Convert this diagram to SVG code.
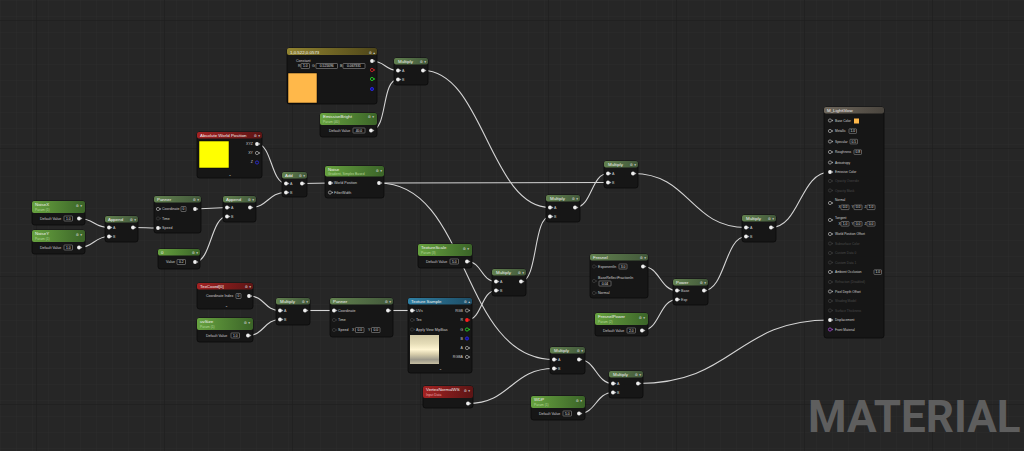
<svg xmlns="http://www.w3.org/2000/svg" width="1024" height="451" viewBox="0 0 1024 451">
<defs>
<style>
text{font-family:"Liberation Sans",Arial,sans-serif}
.b{fill:#161616;stroke:#0a0a0a;stroke-width:.8}
.t{fill:#f0f0f0;font-size:4.4px}
.s{fill:#b5d69a;font-size:3.3px}
.sr{fill:#f0a8a8;font-size:3.3px}
.l{fill:#cdcdcd;font-size:3.6px}
.le{fill:#cdcdcd;font-size:3.6px;text-anchor:end}
.f{fill:#d0d0d0;font-size:3.2px}
.d{fill:#4a4a4a;font-size:3.2px}
.ic{fill:#d0d0d0;font-size:3.6px;font-family:"DejaVu Sans",sans-serif;text-anchor:end}
.bx{fill:#0f0f0f;stroke:#a8a8a8;stroke-width:.5}
.v{fill:#e2e2e2;font-size:3.3px;text-anchor:middle}
.w{fill:none;stroke:#d4d4d4;stroke-width:1.1}
.mk{fill:#5e5e5e;font-family:Roboto,"Liberation Sans",sans-serif;font-weight:700;font-size:44px}
</style>
<linearGradient id="gM" x1="0" y1="0" x2="1" y2="0"><stop offset="0" stop-color="#62814f"/><stop offset="1" stop-color="#42583a"/></linearGradient>
<linearGradient id="gP" x1="0" y1="0" x2="1" y2="0"><stop offset="0" stop-color="#67a23f"/><stop offset="1" stop-color="#3b6428"/></linearGradient>
<linearGradient id="gR" x1="0" y1="0" x2="1" y2="0"><stop offset="0" stop-color="#a32222"/><stop offset="1" stop-color="#5c1515"/></linearGradient>
<linearGradient id="gB" x1="0" y1="0" x2="1" y2="0"><stop offset="0" stop-color="#2f7fa3"/><stop offset="1" stop-color="#1d4d66"/></linearGradient>
<linearGradient id="gY" x1="0" y1="0" x2="1" y2="0"><stop offset="0" stop-color="#928430"/><stop offset="1" stop-color="#4e4619"/></linearGradient>
<linearGradient id="gF" x1="0" y1="0" x2="1" y2="0"><stop offset="0" stop-color="#6e675c"/><stop offset="1" stop-color="#4a453e"/></linearGradient>
<linearGradient id="gT" x1="0" y1="0" x2="0" y2="1"><stop offset="0" stop-color="#cfc6a3"/><stop offset=".3" stop-color="#e6ddb8"/><stop offset=".5" stop-color="#fff5d2"/><stop offset=".66" stop-color="#d8ceac"/><stop offset=".85" stop-color="#9d998b"/><stop offset="1" stop-color="#c6bea2"/></linearGradient>
<pattern id="minor" width="16" height="16" patternUnits="userSpaceOnUse"><path d="M16 0H0V16" fill="none" stroke="#2c2c2c" stroke-width=".8"/></pattern>
<pattern id="major" x="36" y="20" width="128" height="128" patternUnits="userSpaceOnUse"><path d="M128 0H0V128" fill="none" stroke="#1c1c1c" stroke-width="1"/></pattern>
<g id="on"><circle r="1.9" fill="#eeeeee"/><path d="M2.3,-1.1L3.3,0L2.3,1.1Z" fill="#eeeeee"/></g>
<g id="off"><circle r="1.6" fill="#3a3a3a" stroke="#6a6a6a" stroke-width=".5"/></g>
<g id="fo"><circle r="1.6" fill="none" stroke="#d0d0d0" stroke-width=".6"/><path d="M2.2,-1L3.2,0L2.2,1Z" fill="#d0d0d0"/></g>
<g id="fd"><circle r="1.6" fill="none" stroke="#444" stroke-width=".6"/><path d="M2.2,-1L3.2,0L2.2,1Z" fill="#444"/></g>
</defs>
<rect width="1024" height="451" fill="#262626"/>
<rect width="1024" height="451" fill="url(#minor)"/>
<rect width="1024" height="451" fill="url(#major)"/>

<g id="connectors">
<path class="w" d="M372,61C385,61 385,70.5 398,70.5"/>
<path class="w" d="M371,130.5C388,130.5 381,79.5 398,79.5"/>
<path class="w" d="M423,70.5C483,70.5 490,207.5 550,207.5"/>
<path class="w" d="M379,183L608,182.5"/>
<path class="w" d="M379,183C470,183 460,359.5 554,359.5"/>
<path class="w" d="M575,207.5C592,207.5 591,173.5 608,173.5"/>
<path class="w" d="M521,281.5C538,281.5 533,216.5 550,216.5"/>
<path class="w" d="M467,261.5C482,261.5 481,281.5 496,281.5"/>
<path class="w" d="M467,320C482,320 481,290.5 496,290.5"/>
<path class="w" d="M633,173.5C690,173.5 690,227.5 746,227.5"/>
<path class="w" d="M704,290.5C725,290.5 725,236.5 746,236.5"/>
<path class="w" d="M643,266.5C660,266.5 660,290.5 677,290.5"/>
<path class="w" d="M642,330.5C660,330.5 659,299.5 677,299.5"/>
<path class="w" d="M771,227.5C800,227.5 800,172 830,172"/>
<path class="w" d="M579,359.5C596,359.5 596,383.5 613,383.5"/>
<path class="w" d="M468,403.5C511,403.5 511,368.5 554,368.5"/>
<path class="w" d="M579,413.5C596,413.5 596,392.5 613,392.5"/>
<path class="w" d="M638,383.5C735,383.5 735,320 830,320"/>
<path class="w" d="M257,144C272,144 271,183.5 286,183.5"/>
<path class="w" d="M250,207.5C268,207.5 268,192.5 286,192.5"/>
<path class="w" d="M302,183.5L330,183"/>
<path class="w" d="M195,209L227,207.5"/>
<path class="w" d="M195,262C211,262 211,216.5 227,216.5"/>
<path class="w" d="M79,218.5C94,218.5 94,227.5 109,227.5"/>
<path class="w" d="M79,247.5C94,247.5 94,236.5 109,236.5"/>
<path class="w" d="M133,227.5C146,227.5 145,228 158,228"/>
<path class="w" d="M249,296C265,296 264,310.5 280,310.5"/>
<path class="w" d="M248,335.5C264,335.5 264,319.5 280,319.5"/>
<path class="w" d="M305,310.5L334,310.5"/>
<path class="w" d="M388,310.5L412,310.5"/>
</g>

<g id="const3">
<rect class="b" x="287" y="48" width="90" height="56" rx="2.5"/>
<rect x="287" y="48" width="90" height="7" rx="2" fill="url(#gY)"/>
<text class="t" x="290" y="53.5">1,0.522,0.0573</text>
<text class="ic" x="375" y="53.5">⚙ ▴</text>
<text class="l" x="296" y="61.5">Constant</text>
<text class="l" x="298" y="67.3">R</text><rect class="bx" x="301" y="63.5" width="8.5" height="5" rx=".6"/><text class="v" x="305.2" y="67.2">1.0</text>
<text class="l" x="312" y="67.3">G</text><rect class="bx" x="316" y="63.5" width="21.5" height="5" rx=".6"/><text class="v" x="326.7" y="67.2">0.521696</text>
<text class="l" x="340" y="67.3">B</text><rect class="bx" x="343" y="63.5" width="22" height="5" rx=".6"/><text class="v" x="354" y="67.2">0.067331</text>
<rect x="288" y="73" width="29" height="30" fill="#ffb84a" stroke="#000" stroke-width=".5"/>
<use href="#on" x="372" y="61"/>
<circle cx="372" cy="70" r="1.6" fill="none" stroke="#ff2a2a" stroke-width=".7"/><path d="M374.2,69L375.2,70L374.2,71Z" fill="#ff2a2a"/>
<circle cx="372" cy="79" r="1.6" fill="none" stroke="#2bff2b" stroke-width=".7"/><path d="M374.2,78L375.2,79L374.2,80Z" fill="#2bff2b"/>
<circle cx="372" cy="89" r="1.6" fill="#1010a0" stroke="#3030ff" stroke-width=".7"/>
</g>

<g id="mul1">
<rect class="b" x="394" y="58" width="34" height="27" rx="2.5"/>
<rect x="394" y="58" width="34" height="6.5" rx="2" fill="url(#gM)"/>
<text class="t" x="398" y="63">Multiply</text><text class="ic" x="426" y="63">⚙ ▾</text>
<use href="#on" x="398" y="70.5"/><text class="l" x="402" y="71.8">A</text>
<use href="#on" x="398" y="79.5"/><text class="l" x="402" y="80.8">B</text>
<use href="#on" x="423" y="70.5"/>
</g>

<g id="emissive">
<rect class="b" x="320" y="113" width="57" height="24" rx="2.5"/>
<rect x="320" y="113" width="57" height="12" rx="2" fill="url(#gP)"/>
<text class="t" x="323" y="118">EmissiveBright</text><text class="s" x="323" y="123">Param (40)</text>
<text class="ic" x="374" y="118">⚙ ▾</text>
<text class="l" x="329" y="131.7">Default Value</text>
<rect class="bx" x="353" y="128" width="12" height="5" rx=".6"/><text class="v" x="359" y="131.7">40.0</text>
<use href="#on" x="371" y="130.5"/>
</g>

<g id="absworld">
<rect class="b" x="197" y="132" width="65" height="46" rx="2.5"/>
<rect x="197" y="132" width="65" height="6.5" rx="2" fill="url(#gR)"/>
<text class="t" x="200" y="137">Absolute World Position</text><text class="ic" x="260" y="137">⚙ ▾</text>
<rect x="199" y="141" width="30" height="27" fill="#ffff00" stroke="#000" stroke-width=".5"/>
<text class="le" x="253" y="145.3">XYZ</text><use href="#on" x="257" y="144"/>
<text class="le" x="253" y="154.3">XY</text><use href="#fo" x="257" y="153"/>
<text class="le" x="253" y="163.3">Z</text><circle cx="257" cy="162.5" r="1.6" fill="none" stroke="#3030ff" stroke-width=".7"/>
<text class="ic" x="231.5" y="176">⌄</text>
</g>

<g id="add">
<rect class="b" x="282" y="172" width="25" height="25" rx="2.5"/>
<rect x="282" y="172" width="25" height="6.5" rx="2" fill="url(#gM)"/>
<text class="t" x="285" y="177">Add</text><text class="ic" x="305" y="177">⚙ ▾</text>
<use href="#on" x="286" y="183.5"/><text class="l" x="290" y="184.8">A</text>
<use href="#on" x="286" y="192.5"/><text class="l" x="290" y="193.8">B</text>
<use href="#on" x="302" y="183.5"/>
</g>

<g id="noise">
<rect class="b" x="325" y="166" width="59" height="32" rx="2.5"/>
<rect x="325" y="166" width="59" height="10.5" rx="2" fill="url(#gP)"/>
<text class="t" x="328" y="170.5">Noise</text><text class="s" x="328" y="175">Gradient, Simplex Based</text>
<text class="ic" x="382" y="172">⚙ ▾</text>
<use href="#on" x="330" y="183"/><text class="l" x="334" y="184.3">World Position</text>
<use href="#fo" x="330" y="192.5"/><text class="l" x="334" y="193.8">FilterWidth</text>
<use href="#on" x="379" y="183"/>
</g>

<g id="noisex">
<rect class="b" x="32" y="201" width="53" height="24" rx="2.5"/>
<rect x="32" y="201" width="53" height="12" rx="2" fill="url(#gP)"/>
<text class="t" x="35" y="206">NoiseX</text><text class="s" x="35" y="211">Param (1)</text>
<text class="ic" x="82" y="207">⚙ ▾</text>
<text class="l" x="40" y="219.7">Default Value</text>
<rect class="bx" x="64" y="216" width="8.5" height="5" rx=".6"/><text class="v" x="68.2" y="219.7">1.0</text>
<use href="#on" x="79" y="218.5"/>
</g>

<g id="noisey">
<rect class="b" x="32" y="230" width="53" height="24" rx="2.5"/>
<rect x="32" y="230" width="53" height="12" rx="2" fill="url(#gP)"/>
<text class="t" x="35" y="235">NoiseY</text><text class="s" x="35" y="240">Param (1)</text>
<text class="ic" x="82" y="236">⚙ ▾</text>
<text class="l" x="40" y="248.7">Default Value</text>
<rect class="bx" x="64" y="245" width="8.5" height="5" rx=".6"/><text class="v" x="68.2" y="248.7">1.0</text>
<use href="#on" x="79" y="247.5"/>
</g>

<g id="appendL">
<rect class="b" x="105" y="216" width="33" height="26" rx="2.5"/>
<rect x="105" y="216" width="33" height="6.5" rx="2" fill="url(#gM)"/>
<text class="t" x="108" y="221">Append</text><text class="ic" x="136" y="221">⚙ ▾</text>
<use href="#on" x="109" y="227.5"/><text class="l" x="113" y="228.8">A</text>
<use href="#on" x="109" y="236.5"/><text class="l" x="113" y="237.8">B</text>
<use href="#on" x="133" y="227.5"/>
</g>

<g id="pannerU">
<rect class="b" x="154" y="196" width="47" height="37" rx="2.5"/>
<rect x="154" y="196" width="47" height="6.5" rx="2" fill="url(#gM)"/>
<text class="t" x="157" y="201">Panner</text><text class="ic" x="199" y="201">⚙ ▾</text>
<use href="#fo" x="158" y="209"/><text class="l" x="162" y="210.3">Coordinate</text>
<rect class="bx" x="181" y="206.5" width="5" height="5" rx=".6"/><text class="v" x="183.5" y="210.2">0</text>
<use href="#fd" x="158" y="218.5"/><text class="l" x="162" y="219.8">Time</text>
<use href="#on" x="158" y="228"/><text class="l" x="162" y="229.3">Speed</text>
<use href="#on" x="195" y="209"/>
</g>

<g id="appendR">
<rect class="b" x="223" y="196" width="33" height="26" rx="2.5"/>
<rect x="223" y="196" width="33" height="6.5" rx="2" fill="url(#gM)"/>
<text class="t" x="226" y="201">Append</text><text class="ic" x="254" y="201">⚙ ▾</text>
<use href="#on" x="227" y="207.5"/><text class="l" x="231" y="208.8">A</text>
<use href="#on" x="227" y="216.5"/><text class="l" x="231" y="217.8">B</text>
<use href="#on" x="250" y="207.5"/>
</g>

<g id="const0">
<rect class="b" x="158" y="249" width="42" height="20" rx="2.5"/>
<rect x="158" y="249" width="42" height="6.5" rx="2" fill="url(#gP)"/>
<text class="t" x="161" y="254">0</text><text class="ic" x="198" y="254">⚙ ▾</text>
<text class="l" x="166" y="263.3">Value</text>
<rect class="bx" x="177" y="259.5" width="8.5" height="5" rx=".6"/><text class="v" x="181.2" y="263.2">0.2</text>
<use href="#on" x="195" y="262"/>
</g>

<g id="mulMid">
<rect class="b" x="546" y="195" width="34" height="27" rx="2.5"/>
<rect x="546" y="195" width="34" height="6.5" rx="2" fill="url(#gM)"/>
<text class="t" x="550" y="200">Multiply</text><text class="ic" x="578" y="200">⚙ ▾</text>
<use href="#on" x="550" y="207.5"/><text class="l" x="554" y="208.8">A</text>
<use href="#on" x="550" y="216.5"/><text class="l" x="554" y="217.8">B</text>
<use href="#on" x="575" y="207.5"/>
</g>

<g id="mulTR">
<rect class="b" x="604" y="161" width="34" height="27" rx="2.5"/>
<rect x="604" y="161" width="34" height="6.5" rx="2" fill="url(#gM)"/>
<text class="t" x="608" y="166">Multiply</text><text class="ic" x="636" y="166">⚙ ▾</text>
<use href="#on" x="608" y="173.5"/><text class="l" x="612" y="174.8">A</text>
<use href="#on" x="608" y="182.5"/><text class="l" x="612" y="183.8">B</text>
<use href="#on" x="633" y="173.5"/>
</g>

<g id="texscale">
<rect class="b" x="418" y="244" width="54" height="24" rx="2.5"/>
<rect x="418" y="244" width="54" height="12" rx="2" fill="url(#gP)"/>
<text class="t" x="421" y="249">TextureScale</text><text class="s" x="421" y="254">Param (3)</text>
<text class="ic" x="469" y="250">⚙ ▾</text>
<text class="l" x="426" y="262.7">Default Value</text>
<rect class="bx" x="450" y="259" width="8.5" height="5" rx=".6"/><text class="v" x="454.2" y="262.7">5.0</text>
<use href="#on" x="467" y="261.5"/>
</g>

<g id="mul492">
<rect class="b" x="492" y="269" width="34" height="27" rx="2.5"/>
<rect x="492" y="269" width="34" height="6.5" rx="2" fill="url(#gM)"/>
<text class="t" x="496" y="274">Multiply</text><text class="ic" x="524" y="274">⚙ ▾</text>
<use href="#on" x="496" y="281.5"/><text class="l" x="500" y="282.8">A</text>
<use href="#on" x="496" y="290.5"/><text class="l" x="500" y="291.8">B</text>
<use href="#on" x="521" y="281.5"/>
</g>

<g id="fresnel">
<rect class="b" x="590" y="254" width="58" height="44" rx="2.5"/>
<rect x="590" y="254" width="58" height="6.5" rx="2" fill="url(#gM)"/>
<text class="t" x="593" y="259">Fresnel</text><text class="ic" x="646" y="259">⚙ ▾</text>
<use href="#fd" x="594" y="266.5"/><text class="l" x="598" y="267.8">ExponentIn</text>
<rect class="bx" x="619" y="264" width="8" height="5" rx=".6"/><text class="v" x="623" y="267.7">3.0</text>
<use href="#fd" x="594" y="281"/><text class="l" x="598" y="279.3">BaseReflectFractionIn</text>
<rect class="bx" x="599" y="281" width="12" height="5" rx=".6"/><text class="v" x="605" y="284.7">0.04</text>
<use href="#fd" x="594" y="293"/><text class="l" x="598" y="294.3">Normal</text>
<use href="#on" x="643" y="266.5"/>
</g>

<g id="fresnelpower">
<rect class="b" x="595" y="313" width="53" height="23" rx="2.5"/>
<rect x="595" y="313" width="53" height="12" rx="2" fill="url(#gP)"/>
<text class="t" x="598" y="318">FresnelPower</text><text class="s" x="598" y="323">Param (2)</text>
<text class="ic" x="645" y="319">⚙ ▾</text>
<text class="l" x="603" y="331.7">Default Value</text>
<rect class="bx" x="627" y="328" width="8.5" height="5" rx=".6"/><text class="v" x="631.2" y="331.7">2.0</text>
<use href="#on" x="642" y="330.5"/>
</g>

<g id="power">
<rect class="b" x="673" y="279" width="35" height="26" rx="2.5"/>
<rect x="673" y="279" width="35" height="6.5" rx="2" fill="url(#gM)"/>
<text class="t" x="676" y="284">Power</text><text class="ic" x="706" y="284">⚙ ▾</text>
<use href="#on" x="677" y="290.5"/><text class="l" x="681" y="291.8">Base</text>
<use href="#on" x="677" y="299.5"/><text class="l" x="681" y="300.8">Exp</text>
<use href="#on" x="704" y="290.5"/>
</g>

<g id="mulRight">
<rect class="b" x="742" y="215" width="34" height="27" rx="2.5"/>
<rect x="742" y="215" width="34" height="6.5" rx="2" fill="url(#gM)"/>
<text class="t" x="746" y="220">Multiply</text><text class="ic" x="774" y="220">⚙ ▾</text>
<use href="#on" x="746" y="227.5"/><text class="l" x="750" y="228.8">A</text>
<use href="#on" x="746" y="236.5"/><text class="l" x="750" y="237.8">B</text>
<use href="#on" x="771" y="227.5"/>
</g>

<g id="texcoord">
<rect class="b" x="197" y="283" width="56" height="26" rx="2.5"/>
<rect x="197" y="283" width="56" height="6.5" rx="2" fill="url(#gR)"/>
<text class="t" x="200" y="288">TexCoord[0]</text><text class="ic" x="251" y="288">⚙ ▾</text>
<text class="l" x="206" y="297.3">Coordinate Index</text>
<rect class="bx" x="236" y="293.5" width="5" height="5" rx=".6"/><text class="v" x="238.5" y="297.2">0</text>
<use href="#on" x="249" y="296"/>
<text class="ic" x="228" y="306.5">⌄</text>
</g>

<g id="uvsize">
<rect class="b" x="197" y="318" width="56" height="24" rx="2.5"/>
<rect x="197" y="318" width="56" height="12" rx="2" fill="url(#gP)"/>
<text class="t" x="200" y="323">uvSize</text><text class="s" x="200" y="328">Param (1)</text>
<text class="ic" x="250" y="324">⚙ ▾</text>
<text class="l" x="206" y="336.7">Default Value</text>
<rect class="bx" x="231" y="333" width="8.5" height="5" rx=".6"/><text class="v" x="235.2" y="336.7">1.0</text>
<use href="#on" x="248" y="335.5"/>
</g>

<g id="mul276">
<rect class="b" x="276" y="298" width="34" height="27" rx="2.5"/>
<rect x="276" y="298" width="34" height="6.5" rx="2" fill="url(#gM)"/>
<text class="t" x="280" y="303">Multiply</text><text class="ic" x="308" y="303">⚙ ▾</text>
<use href="#on" x="280" y="310.5"/><text class="l" x="284" y="311.8">A</text>
<use href="#on" x="280" y="319.5"/><text class="l" x="284" y="320.8">B</text>
<use href="#on" x="305" y="310.5"/>
</g>

<g id="pannerL">
<rect class="b" x="330" y="298" width="63" height="39" rx="2.5"/>
<rect x="330" y="298" width="63" height="6.5" rx="2" fill="url(#gM)"/>
<text class="t" x="333" y="303">Panner</text><text class="ic" x="391" y="303">⚙ ▾</text>
<use href="#on" x="334" y="310.5"/><text class="l" x="338" y="311.8">Coordinate</text>
<use href="#fd" x="334" y="320"/><text class="l" x="338" y="321.3">Time</text>
<use href="#fd" x="334" y="330"/><text class="l" x="338" y="331.3">Speed</text>
<text class="l" x="352" y="331.3">X</text><rect class="bx" x="355.5" y="327.5" width="8.5" height="5" rx=".6"/><text class="v" x="359.7" y="331.2">0.0</text>
<text class="l" x="368" y="331.3">Y</text><rect class="bx" x="371.5" y="327.5" width="8.5" height="5" rx=".6"/><text class="v" x="375.7" y="331.2">0.0</text>
<use href="#on" x="388" y="310.5"/>
</g>

<g id="texsample">
<rect class="b" x="408" y="298" width="64" height="75" rx="2.5"/>
<rect x="408" y="298" width="64" height="6.5" rx="2" fill="url(#gB)"/>
<text class="t" x="411" y="303">Texture Sample</text><text class="ic" x="470" y="303">⚙ ▴</text>
<use href="#on" x="412" y="310.5"/><text class="l" x="416" y="311.8">UVs</text>
<use href="#fd" x="412" y="320"/><text class="l" x="416" y="321.3">Tex</text>
<use href="#fd" x="412" y="329.5"/><text class="l" x="416" y="330.8">Apply View MipBias</text>
<text class="le" x="463" y="311.8">RGB</text><use href="#fo" x="467" y="310.5"/>
<text class="le" x="463" y="321.3">R</text><circle cx="467" cy="320" r="1.9" fill="#ff1e1e"/><path d="M469.3,318.9L470.3,320L469.3,321.1Z" fill="#ff1e1e"/>
<text class="le" x="463" y="330.8">G</text><circle cx="467" cy="329.5" r="1.6" fill="none" stroke="#2bff2b" stroke-width=".7"/><path d="M469.2,328.5L470.2,329.5L469.2,330.5Z" fill="#2bff2b"/>
<text class="le" x="463" y="339.8">B</text><circle cx="467" cy="338.5" r="1.6" fill="#10108a" stroke="#3030ff" stroke-width=".7"/>
<text class="le" x="463" y="349.3">A</text><use href="#fo" x="467" y="348"/>
<text class="le" x="463" y="358.3">RGBA</text><use href="#fo" x="467" y="357"/>
<rect x="410" y="335" width="29" height="29" fill="url(#gT)"/>
<text class="ic" x="442" y="370">⌄</text>
</g>

<g id="mulBM">
<rect class="b" x="550" y="347" width="35" height="27" rx="2.5"/>
<rect x="550" y="347" width="35" height="6.5" rx="2" fill="url(#gM)"/>
<text class="t" x="554" y="352">Multiply</text><text class="ic" x="583" y="352">⚙ ▾</text>
<use href="#on" x="554" y="359.5"/><text class="l" x="558" y="360.8">A</text>
<use href="#on" x="554" y="368.5"/><text class="l" x="558" y="369.8">B</text>
<use href="#on" x="579" y="359.5"/>
</g>

<g id="vertexnormal">
<rect class="b" x="423" y="386" width="50" height="22" rx="2.5"/>
<rect x="423" y="386" width="50" height="12" rx="2" fill="url(#gR)"/>
<text class="t" x="426" y="391">VertexNormalWS</text><text class="sr" x="426" y="396">Input Data</text>
<text class="ic" x="470" y="392">⚙ ▾</text>
<use href="#on" x="468" y="403.5"/>
</g>

<g id="wdp">
<rect class="b" x="531" y="396" width="54" height="24" rx="2.5"/>
<rect x="531" y="396" width="54" height="12" rx="2" fill="url(#gP)"/>
<text class="t" x="534" y="401">WDP</text><text class="s" x="534" y="406">Param (1)</text>
<text class="ic" x="582" y="402">⚙ ▾</text>
<text class="l" x="539" y="414.7">Default Value</text>
<rect class="bx" x="563" y="411" width="8.5" height="5" rx=".6"/><text class="v" x="567.2" y="414.7">5.0</text>
<use href="#on" x="579" y="413.5"/>
</g>

<g id="mulBR">
<rect class="b" x="609" y="371" width="34" height="27" rx="2.5"/>
<rect x="609" y="371" width="34" height="6.5" rx="2" fill="url(#gM)"/>
<text class="t" x="613" y="376">Multiply</text><text class="ic" x="641" y="376">⚙ ▾</text>
<use href="#on" x="613" y="383.5"/><text class="l" x="617" y="384.8">A</text>
<use href="#on" x="613" y="392.5"/><text class="l" x="617" y="393.8">B</text>
<use href="#on" x="638" y="383.5"/>
</g>

<g id="material">
<rect class="b" x="824" y="107" width="60" height="231" rx="2.5"/>
<rect x="824" y="107" width="60" height="6.5" rx="2" fill="url(#gF)"/>
<text class="t" x="827" y="112">M_LightGlow</text>
<use href="#fo" x="830" y="120.5"/><text class="f" x="835" y="121.7">Base Color</text><rect x="854" y="118.5" width="5" height="5" fill="#ffb84a"/>
<use href="#fo" x="830" y="131"/><text class="f" x="835" y="132.2">Metallic</text><rect class="bx" x="849" y="128.8" width="7.5" height="4.6" rx=".6"/><text class="v" x="852.7" y="132.2">1.0</text>
<use href="#fo" x="830" y="141.5"/><text class="f" x="835" y="142.7">Specular</text><rect class="bx" x="850" y="139.3" width="7.5" height="4.6" rx=".6"/><text class="v" x="853.7" y="142.7">0.5</text>
<use href="#fo" x="830" y="152"/><text class="f" x="835" y="153.2">Roughness</text><rect class="bx" x="854" y="149.8" width="7.5" height="4.6" rx=".6"/><text class="v" x="857.7" y="153.2">0.8</text>
<use href="#fo" x="830" y="162.5"/><text class="f" x="835" y="163.7">Anisotropy</text>
<use href="#on" x="830" y="172"/><text class="f" x="835" y="173.2">Emissive Color</text>
<use href="#fd" x="830" y="181"/><text class="d" x="835" y="182.2">Opacity Override</text>
<use href="#fd" x="830" y="190.5"/><text class="d" x="835" y="191.7">Opacity Mask</text>
<use href="#fo" x="830" y="203"/><text class="f" x="835" y="201.2">Normal</text>
<text class="f" x="838.5" y="208.2">X</text><rect class="bx" x="841" y="205" width="8" height="4.6" rx=".6"/><text class="v" x="845" y="208.3">0.0</text>
<text class="f" x="851.5" y="208.2">Y</text><rect class="bx" x="854" y="205" width="8" height="4.6" rx=".6"/><text class="v" x="858" y="208.3">0.0</text>
<text class="f" x="864.5" y="208.2">Z</text><rect class="bx" x="867" y="205" width="8" height="4.6" rx=".6"/><text class="v" x="871" y="208.3">1.0</text>
<use href="#fo" x="830" y="220"/><text class="f" x="835" y="218.7">Tangent</text>
<text class="f" x="838.5" y="224.7">X</text><rect class="bx" x="841" y="221.5" width="8" height="4.6" rx=".6"/><text class="v" x="845" y="224.8">1.0</text>
<text class="f" x="851.5" y="224.7">Y</text><rect class="bx" x="854" y="221.5" width="8" height="4.6" rx=".6"/><text class="v" x="858" y="224.8">0.0</text>
<text class="f" x="864.5" y="224.7">Z</text><rect class="bx" x="867" y="221.5" width="8" height="4.6" rx=".6"/><text class="v" x="871" y="224.8">0.0</text>
<use href="#fo" x="830" y="234"/><text class="f" x="835" y="235.2">World Position Offset</text>
<use href="#fd" x="830" y="243.5"/><text class="d" x="835" y="244.7">Subsurface Color</text>
<use href="#fd" x="830" y="253"/><text class="d" x="835" y="254.2">Custom Data 0</text>
<use href="#fd" x="830" y="262.5"/><text class="d" x="835" y="263.7">Custom Data 1</text>
<use href="#fo" x="830" y="272"/><text class="f" x="835" y="273.2">Ambient Occlusion</text><rect class="bx" x="874" y="269.8" width="7.5" height="4.6" rx=".6"/><text class="v" x="877.7" y="273.2">1.0</text>
<use href="#fd" x="830" y="282"/><text class="d" x="835" y="283.2">Refraction (Disabled)</text>
<use href="#fo" x="830" y="291.5"/><text class="f" x="835" y="292.7">Pixel Depth Offset</text>
<use href="#fd" x="830" y="301"/><text class="d" x="835" y="302.2">Shading Model</text>
<use href="#fd" x="830" y="310.5"/><text class="d" x="835" y="311.7">Surface Thickness</text>
<use href="#on" x="830" y="320"/><text class="f" x="835" y="321.2">Displacement</text>
<circle cx="830" cy="329.5" r="1.6" fill="none" stroke="#b050e0" stroke-width=".7"/><path d="M832.2,328.5L833.2,329.5L832.2,330.5Z" fill="#b050e0"/><text class="f" x="835" y="330.7">Front Material</text>
</g>

<text class="mk" x="808" y="432">MATERIAL</text>
</svg>
